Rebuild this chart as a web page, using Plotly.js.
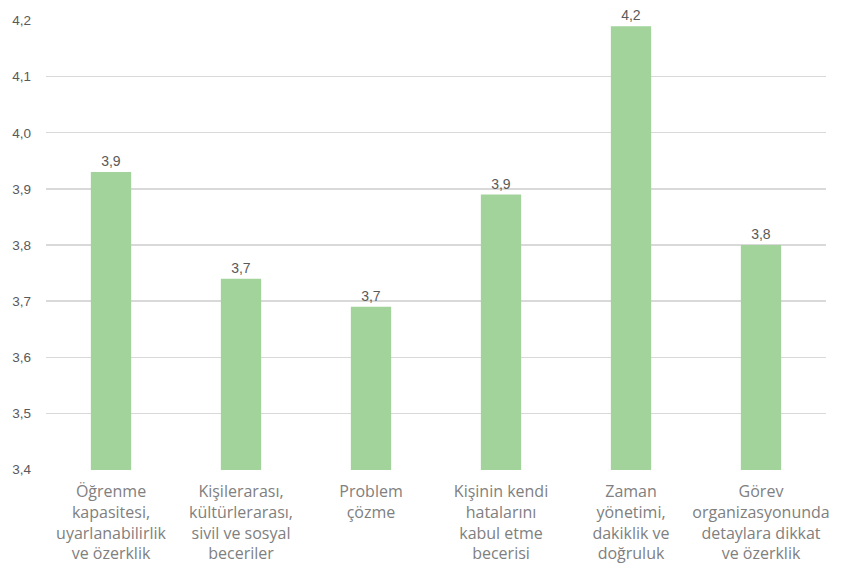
<!DOCTYPE html>
<html>
<head>
<meta charset="utf-8">
<script src="https://cdn.plot.ly/plotly-3.0.1.min.js"></script>
<style>html,body{margin:0;padding:0;background:#fff}#chart{width:847px;height:573px}</style>
</head>
<body>
<div id="chart"></div>
<script>
const categories = [
  "Öğrenme<br>kapasitesi,<br>uyarlanabilirlik<br>ve özerklik",
  "Kişilerarası,<br>kültürlerarası,<br>sivil ve sosyal<br>beceriler",
  "Problem<br>çözme",
  "Kişinin kendi<br>hatalarını<br>kabul etme<br>becerisi",
  "Zaman<br>yönetimi,<br>dakiklik ve<br>doğruluk",
  "Görev<br>organizasyonunda<br>detaylara dikkat<br>ve özerklik"
];
const values = [3.93, 3.74, 3.69, 3.89, 4.19, 3.80];
const yTicks = [3.4, 3.5, 3.6, 3.7, 3.8, 3.9, 4.0, 4.1, 4.2];

const trace = {
  type: "bar",
  x: categories,
  y: values,
  texttemplate: "%{y:.1f}",
  textposition: "outside",
  cliponaxis: false,
  textfont: {family: "Liberation Sans, Arial, sans-serif", size: 14, color: "#595959"},
  marker: {color: "#A1D39B"},
  width: 0.31,
  hoverinfo: "skip"
};

const layout = {
  width: 847, height: 573,
  margin: {l: 46, r: 21, t: 20, b: 103},
  paper_bgcolor: "#fff", plot_bgcolor: "#fff",
  separators: ",.",
  showlegend: false,
  xaxis: {
    tickfont: {family: "Open Sans, sans-serif", size: 16, color: "#808080"},
    showgrid: false, zeroline: false, showline: false, ticks: "",
    ticklabelstandoff: 10
  },
  yaxis: {
    range: [3.399, 4.201],
    tickvals: yTicks,
    tickformat: ".1f",
    tickfont: {family: "Liberation Sans, Arial, sans-serif", size: 13.5, color: "#595959"},
    gridcolor: "#D9D9D9", gridwidth: 1.3,
    zeroline: false, showline: false, ticks: "",
    ticklabelstandoff: 14
  }
};
Plotly.newPlot("chart", [trace], layout, {displayModeBar: false, staticPlot: true});
</script>
</body>
</html>
